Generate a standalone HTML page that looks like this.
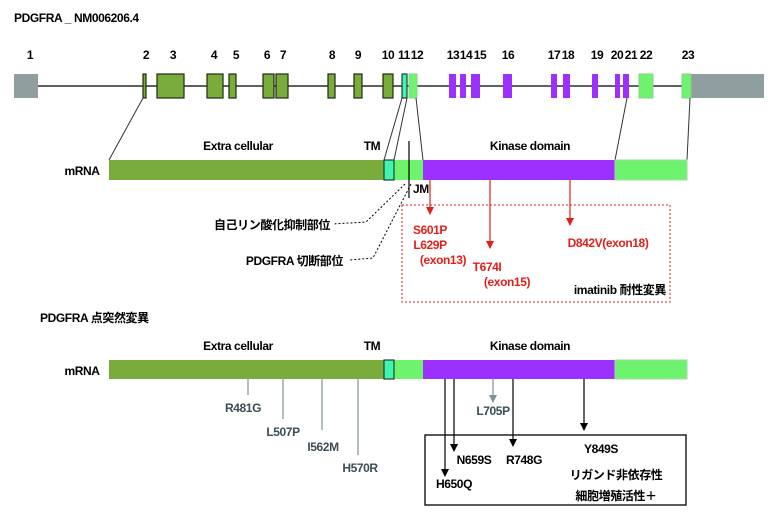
<!DOCTYPE html>
<html><head><meta charset="utf-8"><style>
html,body{margin:0;padding:0;background:#fff;}
svg{display:block;}
text{font-family:"Liberation Sans Narrow","Liberation Sans","Noto Sans CJK JP",sans-serif;font-weight:bold;font-size:12px;letter-spacing:-0.4px;}
</style></head><body>
<svg width="772" height="512" viewBox="0 0 772 512" xmlns="http://www.w3.org/2000/svg">
<defs>
<marker id="ar" markerWidth="8" markerHeight="8" refX="7" refY="4" orient="auto" markerUnits="userSpaceOnUse"><path d="M0,0 L8,4 L0,8 z" fill="#e0201c"/></marker>
<marker id="ab" markerWidth="8" markerHeight="8" refX="7" refY="4" orient="auto" markerUnits="userSpaceOnUse"><path d="M0,0 L8,4 L0,8 z" fill="#000"/></marker>
<marker id="ag" markerWidth="8" markerHeight="8" refX="7" refY="4" orient="auto" markerUnits="userSpaceOnUse"><path d="M0,0 L8,4 L0,8 z" fill="#7f9294"/></marker>
</defs>
<text x="14" y="22" font-size="12">PDGFRA _ NM006206.4</text>
<g font-size="12" text-anchor="middle" font-weight="normal">
<text x="30" y="59">1</text><text x="146" y="59">2</text><text x="173" y="59">3</text>
<text x="214" y="59">4</text><text x="236" y="59">5</text><text x="267" y="59">6</text><text x="283" y="59">7</text>
<text x="332" y="59">8</text><text x="358" y="59">9</text><text x="388" y="59">10</text><text x="404" y="59">11</text><text x="417" y="59">12</text>
<text x="453" y="59">13</text><text x="466" y="59">14</text><text x="480" y="59">15</text><text x="508" y="59">16</text>
<text x="554" y="59">17</text><text x="568" y="59">18</text><text x="597" y="59">19</text><text x="617" y="59">20</text><text x="631" y="59">21</text>
<text x="646" y="59">22</text><text x="688" y="59">23</text>
</g>
<line x1="38" y1="86" x2="691" y2="86" stroke="#000" stroke-width="1.3"/>
<rect x="14" y="74" width="24" height="24" fill="#8f9e9e"/>
<rect x="691" y="74" width="73" height="24" fill="#8f9e9e"/>
<g fill="#7aac3c" stroke="#1e2a10" stroke-width="1.2">
<rect x="143" y="74" width="3" height="24"/><rect x="157" y="74" width="27" height="24"/>
<rect x="207" y="74" width="16" height="24"/><rect x="229" y="74" width="7" height="24"/>
<rect x="263" y="74" width="11" height="24"/><rect x="276" y="74" width="12" height="24"/>
<rect x="328" y="74" width="7" height="24"/><rect x="354" y="74" width="8" height="24"/>
<rect x="383" y="74" width="10" height="24"/>
</g>
<rect x="402" y="74" width="5" height="24" fill="#3ff5b0" stroke="#1e4030" stroke-width="1.2"/>
<g fill="#6ef36e" stroke="#8ccf8c" stroke-width="1">
<rect x="409" y="74" width="8" height="24"/><rect x="639" y="74" width="14" height="24"/><rect x="682" y="74" width="9" height="24"/>
</g>
<g fill="#9b30ff">
<rect x="449" y="74" width="7" height="24"/><rect x="460" y="74" width="6" height="24"/><rect x="471" y="74" width="9" height="24"/>
<rect x="503" y="74" width="9" height="24"/><rect x="551" y="74" width="6" height="24"/><rect x="563" y="74" width="7" height="24"/>
<rect x="592" y="74" width="6" height="24"/><rect x="615" y="74" width="5" height="24"/><rect x="623" y="74" width="6" height="24"/>
</g>
<g stroke="#333" stroke-width="1">
<line x1="143" y1="98" x2="109" y2="160"/>
<line x1="402" y1="98" x2="384" y2="160"/>
<line x1="407" y1="98" x2="394" y2="160"/>
<line x1="416" y1="98" x2="423" y2="160"/>
<line x1="627" y1="98" x2="615" y2="160"/>
<line x1="690" y1="98" x2="687" y2="160"/>
</g>
<text x="82" y="175" text-anchor="middle">mRNA</text>
<text x="238" y="150" text-anchor="middle">Extra cellular</text>
<text x="372" y="150" text-anchor="middle">TM</text>
<text x="530" y="150" text-anchor="middle">Kinase domain</text>
<rect x="109" y="160" width="275" height="20" fill="#7aac3c"/>
<rect x="394" y="160" width="29" height="20" fill="#6ef36e"/>
<rect x="423" y="160" width="192" height="20" fill="#9b30ff"/>
<rect x="615" y="160" width="72" height="20" fill="#6ef36e" stroke="#a5d8a5" stroke-width="1"/>
<rect x="384" y="160" width="10" height="20" fill="#3ff5b0" stroke="#1e4030" stroke-width="1.2"/>
<line x1="409" y1="141" x2="409" y2="198" stroke="#000" stroke-width="1.2"/>
<text x="413" y="193">JM</text>
<g stroke="#000" stroke-width="1" stroke-dasharray="2,2" fill="none">
<polyline points="405,184 366,222 333,224"/>
<polyline points="411,184 373,258 350,260"/>
</g>
<text x="330" y="229" text-anchor="end" font-size="13">自己リン酸化抑制部位</text>
<text x="343" y="265" text-anchor="end" font-size="13">PDGFRA 切断部位</text>
<g stroke="#e0201c" stroke-width="1.2">
<line x1="430" y1="180" x2="430" y2="214" marker-end="url(#ar)"/>
<line x1="490" y1="180" x2="490" y2="248" marker-end="url(#ar)"/>
<line x1="570" y1="180" x2="570" y2="225" marker-end="url(#ar)"/>
</g>
<rect x="402" y="205" width="268" height="97" fill="none" stroke="#e0201c" stroke-width="1" stroke-dasharray="2,2"/>
<g fill="#e0201c" text-anchor="middle" font-size="13">
<text x="430" y="234">S601P</text><text x="430" y="249">L629P</text><text x="443" y="264">(exon13)</text>
<text x="487" y="271">T674I</text><text x="507" y="286">(exon15)</text>
<text x="608" y="247">D842V(exon18)</text>
</g>
<text x="666" y="294" text-anchor="end" font-size="13">imatinib 耐性変異</text>
<text x="40" y="322" font-size="13">PDGFRA 点突然変異</text>
<text x="82" y="375" text-anchor="middle">mRNA</text>
<text x="238" y="350" text-anchor="middle">Extra cellular</text>
<text x="372" y="350" text-anchor="middle">TM</text>
<text x="530" y="350" text-anchor="middle">Kinase domain</text>
<rect x="109" y="360" width="275" height="19" fill="#7aac3c"/>
<rect x="394" y="360" width="29" height="19" fill="#6ef36e"/>
<rect x="423" y="360" width="192" height="19" fill="#9b30ff"/>
<rect x="615" y="360" width="72" height="19" fill="#6ef36e" stroke="#a5d8a5" stroke-width="1"/>
<rect x="384" y="360" width="10" height="19" fill="#3ff5b0" stroke="#1e4030" stroke-width="1.2"/>
<g stroke="#7f9294" stroke-width="1.2">
<line x1="248" y1="379" x2="248" y2="395"/>
<line x1="283" y1="379" x2="283" y2="419"/>
<line x1="322" y1="379" x2="322" y2="430"/>
<line x1="358" y1="379" x2="358" y2="455"/>
<line x1="493" y1="379" x2="493" y2="402" marker-end="url(#ag)"/>
</g>
<g fill="#3c4e54" text-anchor="middle" font-size="13">
<text x="243" y="412">R481G</text><text x="283" y="436">L507P</text><text x="323" y="451">I562M</text><text x="360" y="472">H570R</text>
<text x="493" y="415">L705P</text>
</g>
<g stroke="#000" stroke-width="1.2">
<line x1="445" y1="379" x2="445" y2="476" marker-end="url(#ab)"/>
<line x1="454" y1="379" x2="454" y2="451" marker-end="url(#ab)"/>
<line x1="513" y1="379" x2="513" y2="446" marker-end="url(#ab)"/>
<line x1="584" y1="379" x2="584" y2="430" marker-end="url(#ab)"/>
</g>
<rect x="425" y="435" width="261" height="70" fill="none" stroke="#000" stroke-width="1.3"/>
<g text-anchor="middle" font-size="13">
<text x="474" y="464">N659S</text><text x="524" y="464">R748G</text><text x="601" y="453">Y849S</text>
<text x="454" y="488">H650Q</text>
<text x="616" y="479">リガンド非依存性</text>
<text x="616" y="500">細胞増殖活性＋</text>
</g>
</svg>
</body></html>
